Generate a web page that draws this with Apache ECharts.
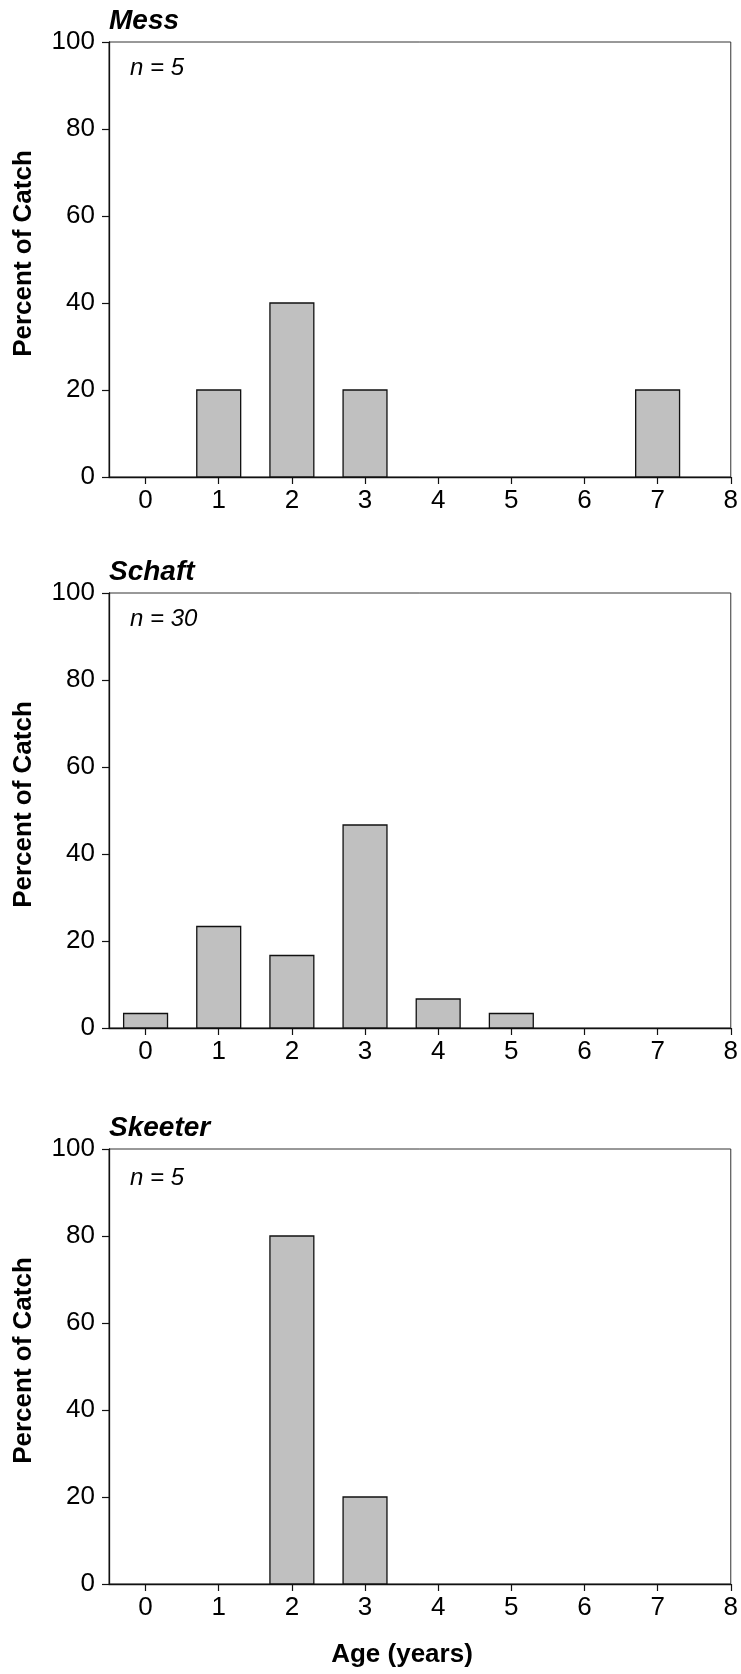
<!DOCTYPE html>
<html>
<head>
<meta charset="utf-8">
<title>Age composition of catch</title>
<script src="https://cdn.jsdelivr.net/npm/echarts@6/dist/echarts.min.js"></script>
<style>
  html, body { margin: 0; padding: 0; background: #fff; }
  #chart { width: 741px; height: 1674px; }
</style>
</head>
<body>
<div id="chart"></div>
<script>
// Age classes (years) and percent of catch per lake
const ages = [0, 1, 2, 3, 4, 5, 6, 7];
const messPct = [0, 20, 40, 20, 0, 0, 0, 20];
const schaftPct = [3.33, 23.33, 16.67, 46.67, 6.67, 3.33, 0, 0];
const skeeterPct = [0, 0, 80, 20, 0, 0, 0, 0];

const panelNames = ['Mess', 'Schaft', 'Skeeter'];
const sampleSizes = ['n = 5', 'n = 30', 'n = 5'];
const ageTicks = [0, 1, 2, 3, 4, 5, 6, 7, 8];
const panelData = [messPct, schaftPct, skeeterPct];

const FONT = "'Liberation Sans', Arial, Helvetica, sans-serif";
const gridLeft = 109, gridRight = 9.5, gridH = 435;
const gridTops = [42, 593, 1149];
const nOffsets = [26, 26, 29];

const chart = echarts.init(document.getElementById('chart'), null, { renderer: 'canvas' });

const grids = gridTops.map(t => ({
  left: gridLeft, right: gridRight, top: t, height: gridH,
  show: true, borderColor: '#333', borderWidth: 1, backgroundColor: 'transparent'
}));

const xAxes = gridTops.map((t, i) => ({
  type: 'value', gridIndex: i, min: -0.5, max: 8,
  axisLine: { show: true, onZero: false, lineStyle: { color: '#111', width: 1.3 } },
  axisTick: { show: true, inside: false, length: 7, customValues: ageTicks, lineStyle: { color: '#111', width: 1.2 } },
  axisLabel: { show: true, customValues: ageTicks, margin: 11, fontSize: 26, color: '#000', fontFamily: FONT },
  splitLine: { show: false }
}));

const yAxes = gridTops.map((t, i) => ({
  type: 'value', gridIndex: i, min: 0, max: 100, interval: 20,
  axisLine: { show: true, onZero: false, lineStyle: { color: '#111', width: 1.3 } },
  axisTick: { show: true, inside: false, length: 7, lineStyle: { color: '#111', width: 1.2 } },
  axisLabel: { show: true, margin: 14, fontSize: 26, color: '#000', fontFamily: FONT },
  splitLine: { show: false }
}));

// Bars of width 0.6 age units, drawn from the axis scales
function renderBar(params, api) {
  const x = api.value(0), y = api.value(1);
  if (!y) return null;
  const p0 = api.coord([x - 0.3, y]);
  const p1 = api.coord([x + 0.3, 0]);
  return {
    type: 'rect',
    shape: { x: p0[0], y: p0[1], width: p1[0] - p0[0], height: p1[1] - p0[1] },
    style: { fill: '#c0c0c0', stroke: '#111', lineWidth: 1.3 }
  };
}

const series = panelData.map((vals, i) => ({
  type: 'custom', xAxisIndex: i, yAxisIndex: i,
  renderItem: renderBar,
  data: ages.map((a, k) => [a, vals[k]]),
  z: 3
}));

const graphics = [];
gridTops.forEach((t, i) => {
  graphics.push({
    type: 'text', x: 109, y: t - 21,
    style: { text: panelNames[i], font: "italic bold 28px " + FONT, fill: '#000', textVerticalAlign: 'middle' }
  });
  graphics.push({
    type: 'text', x: 130, y: t + nOffsets[i],
    style: { text: sampleSizes[i], font: "italic 24px " + FONT, fill: '#000', textVerticalAlign: 'middle' }
  });
  graphics.push({
    type: 'text', x: 24, y: t + gridH / 2 - 6, rotation: Math.PI / 2,
    style: { text: 'Percent of Catch', font: "bold 26px " + FONT, fill: '#000', textAlign: 'center', textVerticalAlign: 'middle' }
  });
});
graphics.push({
  type: 'text', x: 402, y: 1655,
  style: { text: 'Age (years)', font: "bold 26px " + FONT, fill: '#000', textAlign: 'center', textVerticalAlign: 'middle' }
});

chart.setOption({
  animation: false,
  backgroundColor: '#fff',
  grid: grids,
  xAxis: xAxes,
  yAxis: yAxes,
  series: series,
  graphic: graphics
});
</script>
</body>
</html>
